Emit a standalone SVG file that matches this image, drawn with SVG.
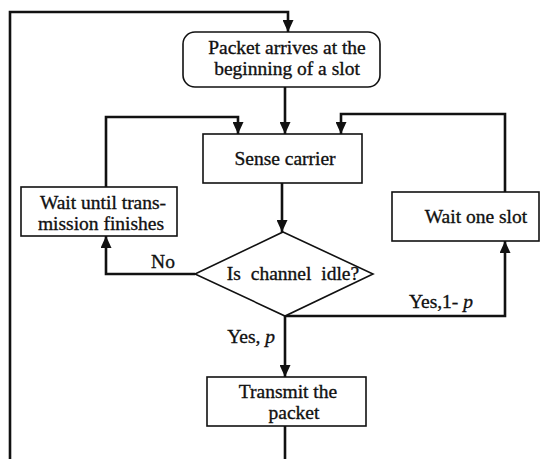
<svg xmlns="http://www.w3.org/2000/svg" width="540" height="459" viewBox="0 0 540 459">
<style>
.box{fill:#fff;stroke:#111;stroke-width:1.6}
.conn{fill:none;stroke:#111;stroke-width:2.6}
text{font-family:"Liberation Serif","Times New Roman",serif;font-size:19.5px;fill:#111;stroke:#111;stroke-width:0.35}
.c{text-anchor:middle}
</style>
<defs>
<marker id="arr" markerUnits="userSpaceOnUse" markerWidth="12" markerHeight="11" refX="12" refY="5.5" orient="auto">
<path d="M0,0 L12,5.5 L0,11 Z" fill="#111"/>
</marker>
</defs>
<rect width="540" height="459" fill="#fff"/>
<g id="connectors">
<path class="conn" d="M285,426 V475 H10 V12 H288 V32" marker-end="url(#arr)"/>
<path class="conn" d="M285,87 V134" marker-end="url(#arr)"/>
<path class="conn" d="M106,187 V117 H238 V134" marker-end="url(#arr)"/>
<path class="conn" d="M505,192 V114 H341 V134" marker-end="url(#arr)"/>
<path class="conn" d="M282,183 V232" marker-end="url(#arr)"/>
<path class="conn" d="M195,274 H106 V236" marker-end="url(#arr)"/>
<path class="conn" d="M285,316 H505 V241" marker-end="url(#arr)"/>
<path class="conn" d="M285,316 V377" marker-end="url(#arr)"/>
<text x="163" y="268" class="c">No</text>
<text x="473" y="308" text-anchor="end">Yes,1- <tspan font-style="italic">p</tspan></text>
<text x="275" y="343" text-anchor="end">Yes, <tspan font-style="italic">p</tspan></text>
</g>
<g id="packet-arrives">
<rect class="box" x="183" y="32" width="197" height="55" rx="12"/>
<text x="287" y="54" class="c">Packet arrives at the</text>
<text x="287" y="75" class="c">beginning of a slot</text>
</g>
<g id="sense-carrier">
<rect class="box" x="203" y="134" width="159" height="49"/>
<text x="285" y="165" class="c">Sense carrier</text>
</g>
<g id="wait-until">
<rect class="box" x="21" y="187" width="156" height="49"/>
<text x="103" y="209" class="c">Wait until trans-</text>
<text x="101" y="230" class="c">mission finishes</text>
</g>
<g id="wait-one-slot">
<rect class="box" x="392" y="192" width="147" height="49"/>
<text x="476" y="223" class="c">Wait one slot</text>
</g>
<g id="channel-idle">
<path class="box" d="M283,232 L373,274 L285,316 L195,274 Z"/>
<text x="293" y="280" class="c" word-spacing="5">Is channel idle?</text>
</g>
<g id="transmit">
<rect class="box" x="207" y="377" width="159" height="49"/>
<text x="288" y="398" class="c">Transmit the</text>
<text x="294" y="419" class="c">packet</text>
</g>
</svg>
